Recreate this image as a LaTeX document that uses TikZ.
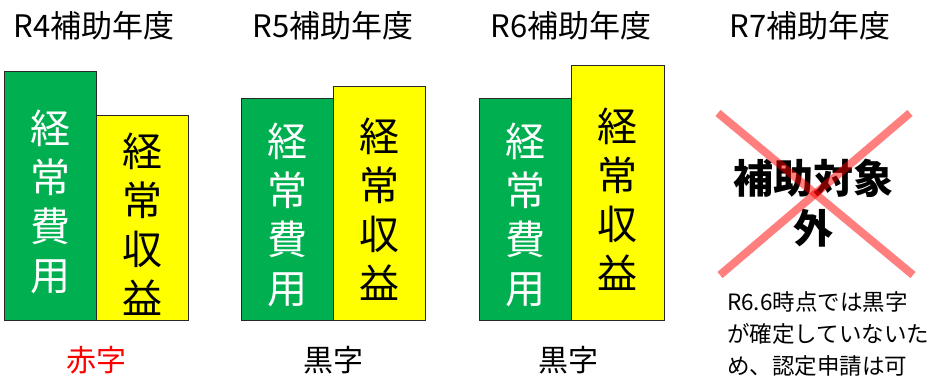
\documentclass[tikz,border=0pt]{standalone}
\usepackage{fontspec}
\setmainfont{Noto Sans CJK JP}
\definecolor{barGreen}{RGB}{0,176,80}
\definecolor{barYellow}{RGB}{255,255,0}
\definecolor{edgeGray}{RGB}{40,40,40}
\definecolor{lossRed}{RGB}{255,0,0}
\definecolor{crossRed}{RGB}{255,0,0}
\newcommand{\firstup}{\rule{0pt}{46pt}}
\tikzset{
  barbase/.style={draw=edgeGray, line width=0.9pt, inner sep=0pt, outer sep=0pt, minimum width=92pt, anchor=south west, align=center, font=\fontsize{40}{49}\selectfont},
  greenbar/.style={barbase, fill=barGreen, text=white},
  yellowbar/.style={barbase, fill=barYellow, text=black},
  title/.style={font=\fontsize{31}{36}\selectfont, inner sep=0pt},
  result/.style={font=\fontsize{30}{36}\selectfont, inner sep=0pt},
  crossline/.style={draw=crossRed, opacity=0.5, line width=8pt},
}
\begin{document}
\begin{tikzpicture}[x=1pt,y=-1pt]
\useasboundingbox (0,0) rectangle (933,376);
% titles
\node[title] (t4) at (94,26) {R4補助年度};
\node[title] (t5) at (333,26) {R5補助年度};
\node[title] (t6) at (571,26) {R6補助年度};
\node[title] (t7) at (810,26) {R7補助年度};
% R4
\node[greenbar, minimum height=249pt] (g4) at (4,320) {\firstup 経\\常\\費\\用};
\node[yellowbar, minimum height=205pt] (y4) at (96,320) {\firstup 経\\常\\収\\益};
% R5
\node[greenbar, minimum height=222pt] (g5) at (241,320) {\firstup 経\\常\\費\\用};
\node[yellowbar, minimum height=234pt] (y5) at (333,320) {\firstup 経\\常\\収\\益};
% R6
\node[greenbar, minimum height=222pt] (g6) at (479,320) {\firstup 経\\常\\費\\用};
\node[yellowbar, minimum height=255pt, minimum width=93pt] (y6) at (571,320) {\firstup 経\\常\\収\\益};
% results
\node[result, text=lossRed] (r4) at (96,360) {赤字};
\node[result] (r5) at (333,360) {黒字};
\node[result] (r6) at (568,360) {黒字};
% R7
\node[inner sep=0pt, align=center, font=\fontsize{40}{50}\selectfont\bfseries] (out) at (813,203) {補助対象\\外};
\coordinate (xa) at (718,113);
\coordinate (xb) at (913,275);
\coordinate (xc) at (910,113);
\coordinate (xd) at (720,275);
\draw[crossline] (xa) -- (xb);
\draw[crossline] (xc) -- (xd);
\node[inner sep=0pt, anchor=base west, align=left, font=\fontsize{22.5}{32}\selectfont] (note) at (727,374) {R6.6時点では黒字\\が確定していないた\\め、認定申請は可};
\end{tikzpicture}
\end{document}
